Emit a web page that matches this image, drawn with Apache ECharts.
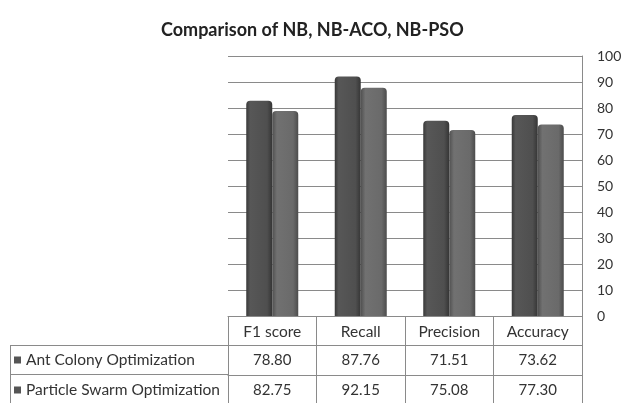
<!DOCTYPE html>
<html>
<head>
<meta charset="utf-8">
<script src="https://cdn.jsdelivr.net/npm/echarts@6/dist/echarts.min.js"></script>
<style>html,body{margin:0;padding:0;background:#fff;}#c{width:631px;height:403px;}</style>
</head>
<body>
<div id="c"></div>
<script>
const titleText = 'Comparison of NB, NB-ACO, NB-PSO';
const categories = ['F1 score', 'Recall', 'Precision', 'Accuracy'];
const seriesNames = ['Ant Colony Optimization', 'Particle Swarm Optimization'];
const acoValues = [78.80, 87.76, 71.51, 73.62];
const psoValues = [82.75, 92.15, 75.08, 77.30];
const yTicks = [0, 10, 20, 30, 40, 50, 60, 70, 80, 90, 100];

const FONT = 'Lato';
const lineCol = '#8a8a8a';
const chart = echarts.init(document.getElementById('c'), null, {renderer: 'canvas'});

function grad(stops) {
  return new echarts.graphic.LinearGradient(0, 0, 1, 0, stops.map((c, i) => ({offset: c[0], color: c[1]})));
}

const rowAxis = (offset, tickLen, margin, fontSize, formatter) => ({
  type: 'category',
  data: categories,
  position: 'bottom',
  gridIndex: 0,
  offset: offset,
  axisLine: {show: true, lineStyle: {color: lineCol, width: 1}},
  axisTick: {show: true, length: tickLen, alignWithLabel: false, interval: 0, lineStyle: {color: lineCol, width: 1}},
  axisLabel: {show: true, interval: 0, margin: margin, color: '#333', fontSize: fontSize, fontFamily: FONT, formatter: formatter},
  splitLine: {show: false}
});

chart.setOption({
  animation: false,
  backgroundColor: '#ffffff',
  title: {
    text: titleText,
    left: 156,
    top: 16,
    textStyle: {fontFamily: FONT, fontWeight: 'bold', fontSize: 18, color: '#222'}
  },
  legend: {
    data: seriesNames,
    orient: 'vertical',
    left: 14,
    top: 352,
    padding: 0,
    icon: 'rect',
    itemWidth: 7,
    itemHeight: 7,
    itemGap: 14,
    selectedMode: false,
    itemStyle: {color: '#555555'},
    textStyle: {fontFamily: FONT, fontSize: 15.5, color: '#333', lineHeight: 16}
  },
  grid: {left: 228, right: 49, top: 56, bottom: 87, containLabel: false},
  xAxis: [
    rowAxis(0, 29, 8, 15.5, v => v),
    rowAxis(29, 30, 8, 15, (v, i) => acoValues[i].toFixed(2)),
    rowAxis(59, 30, 8, 15, (v, i) => psoValues[i].toFixed(2))
  ],
  yAxis: {
    type: 'value',
    position: 'right',
    min: yTicks[0],
    max: yTicks[yTicks.length - 1],
    interval: 10,
    axisLine: {show: true, lineStyle: {color: lineCol}},
    axisTick: {show: false},
    axisLabel: {margin: 15, color: '#333', fontSize: 14, fontFamily: FONT},
    splitLine: {show: true, lineStyle: {color: lineCol, width: 1}}
  },
  graphic: [
    {type: 'line', shape: {x1: 10, y1: 345.5, x2: 228, y2: 345.5}, style: {stroke: lineCol, lineWidth: 1}},
    {type: 'line', shape: {x1: 10, y1: 374.5, x2: 228, y2: 374.5}, style: {stroke: lineCol, lineWidth: 1}},
    {type: 'line', shape: {x1: 10.5, y1: 345, x2: 10.5, y2: 403}, style: {stroke: lineCol, lineWidth: 1}}
  ],
  series: [
    {
      name: seriesNames[1],
      type: 'bar',
      xAxisIndex: 0,
      data: psoValues,
      barWidth: 26,
      barGap: '0%',
      itemStyle: {
        borderRadius: [4, 4, 0, 0],
        color: grad([[0, '#383838'], [0.15, '#575757'], [0.8, '#4f4f4f'], [1, '#353535']])
      }
    },
    {
      name: seriesNames[0],
      type: 'bar',
      xAxisIndex: 0,
      data: acoValues,
      barWidth: 26,
      barGap: '0%',
      itemStyle: {
        borderRadius: [4, 4, 0, 0],
        color: grad([[0, '#505050'], [0.18, '#717171'], [0.8, '#6a6a6a'], [1, '#4c4c4c']])
      }
    }
  ]
});
</script>
</body>
</html>
